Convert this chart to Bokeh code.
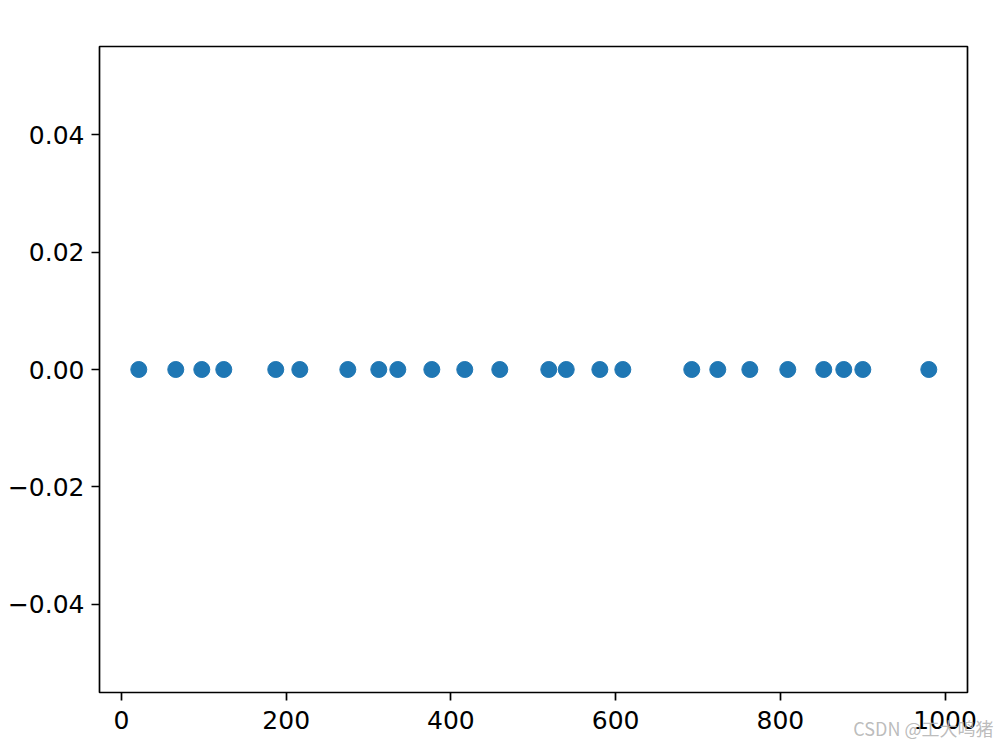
from bokeh.plotting import figure
from bokeh.models import Range1d, FixedTicker, Label, LinearAxis
from bokeh.embed import file_html
from bokeh.resources import INLINE

# data
x_values = [21.0, 65.9, 97.5, 124.2, 187.3, 216.5, 274.8, 312.4, 335.5, 376.8,
            416.8, 459.3, 518.8, 540.0, 580.8, 608.7, 692.4, 724.0, 762.9, 809.0,
            852.7, 877.0, 900.1, 980.2]
y_values = [0.0] * len(x_values)

x_ticks = [0, 200, 400, 600, 800, 1000]
x_tick_labels = ["0", "200", "400", "600", "800", "1000"]
y_ticks = [-0.04, -0.02, 0.0, 0.02, 0.04]
y_tick_labels = ["\u22120.04", "\u22120.02", "0.00", "0.02", "0.04"]
watermark = "CSDN @工大鸣猪"

# axes limits (matplotlib-like)
x_lo, x_hi = -26.7, 1027.2
y_lo, y_hi = -0.055, 0.055

# layout in pixels
W, H = 994, 742
box_l, box_r, box_t, box_b = 99, 967, 46, 692
sx = (box_r - box_l) / (x_hi - x_lo)
sy = (box_b - box_t) / (y_hi - y_lo)

p = figure(output_backend="svg", toolbar_location=None,
           frame_width=W, frame_height=H,
           min_border=0, min_border_left=0, min_border_right=0,
           min_border_top=0, min_border_bottom=0,
           x_axis_location=None, y_axis_location=None,
           x_range=Range1d(x_lo - box_l / sx, x_hi + (W - box_r) / sx),
           y_range=Range1d(y_lo - (H - box_b) / sy, y_hi + box_t / sy))

p.background_fill_color = "white"
p.border_fill_color = "white"
p.outline_line_color = None
p.grid.visible = False

# axes box
p.quad(left=[x_lo], right=[x_hi], bottom=[y_lo], top=[y_hi],
       fill_color=None, line_color="black", line_width=1.7)

p.scatter(x_values, y_values, size=16, color="#1f77b4", line_color="#1f77b4")

FONT = "DejaVu Sans"
xaxis = LinearAxis(fixed_location=y_lo)
yaxis = LinearAxis(fixed_location=x_lo)
p.add_layout(xaxis, "below")
p.add_layout(yaxis, "left")
for ax, ticks, labels in ((xaxis, x_ticks, x_tick_labels),
                          (yaxis, y_ticks, y_tick_labels)):
    ax.ticker = FixedTicker(ticks=ticks, minor_ticks=[])
    ax.major_label_overrides = {t: l for t, l in zip(ticks, labels)}
    ax.axis_line_color = None
    ax.major_tick_line_color = "black"
    ax.major_tick_line_width = 1.7
    ax.major_tick_out = 8
    ax.major_tick_in = 0
    ax.minor_tick_line_color = None
    ax.major_label_text_font = FONT
    ax.major_label_text_font_size = "25px"
    ax.major_label_text_color = "black"
yaxis.major_label_standoff = 7
xaxis.major_label_standoff = 10

wm = Label(x=W - 1, y=H - 740, x_units="screen", y_units="screen",
           text=watermark, text_align="right",
           text_font="Noto Sans CJK SC", text_font_size="18px",
           text_color="#b4b4b4", text_alpha=0.9, text_baseline="bottom")
p.add_layout(wm)

open("out.html", "w").write(file_html(p, INLINE))
